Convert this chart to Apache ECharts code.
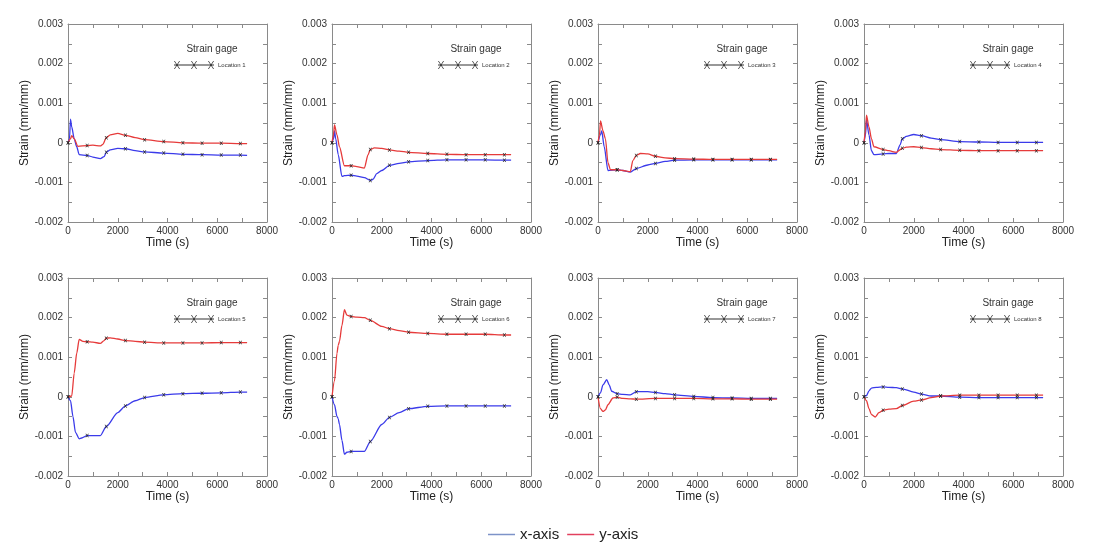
<!DOCTYPE html>
<html><head><meta charset="utf-8">
<script src="https://cdn.jsdelivr.net/npm/echarts@6/dist/echarts.min.js"></script>
<style>html,body{margin:0;padding:0;background:#fff}#c{width:1107px;height:550px}</style>
</head><body><div id="c"></div>
<script>
// ---------- data (time s, strain mm/mm) ----------
const loc1X = [[0,0],[60,0.0001],[100,0.0006],[150,0.0004],[250,0.0001],[350,-0.0001],[450,-0.0003],[770,-0.00032],[1000,-0.00036],[1300,-0.0004],[1450,-0.00035],[1540,-0.00024],[1700,-0.00018],[2000,-0.00014],[2310,-0.00015],[2700,-0.0002],[3080,-0.00023],[3850,-0.00026],[4620,-0.00029],[5390,-0.0003],[6160,-0.00031],[6930,-0.00031],[7200,-0.00032]];
const loc1Y = [[0,0],[100,0.0001],[150,0.00018],[250,0.0001],[400,-0.00009],[770,-0.00007],[1000,-0.00006],[1300,-0.00008],[1400,-0.00004],[1540,0.00013],[1700,0.0002],[2000,0.00024],[2310,0.00019],[2700,0.00013],[3080,0.00008],[3850,0.00003],[4620,0],[5390,-0.00001],[6160,-0.00001],[6930,-0.00002],[7200,-0.00002]];
const loc2X = [[0,0],[60,0.0001],[100,0.0003],[150,0.0001],[250,-0.0003],[400,-0.00085],[500,-0.00083],[770,-0.00082],[1000,-0.00084],[1300,-0.00088],[1540,-0.00095],[1650,-0.00092],[1800,-0.00078],[2000,-0.0007],[2310,-0.00057],[2700,-0.00052],[3080,-0.00048],[3850,-0.00045],[4620,-0.00043],[5390,-0.00043],[6160,-0.00043],[6930,-0.00044],[7200,-0.00044]];
const loc2Y = [[0,0],[60,0.0002],[100,0.00045],[200,0.0002],[300,-0.0001],[500,-0.00058],[770,-0.00058],[1000,-0.0006],[1300,-0.00064],[1450,-0.0003],[1540,-0.00017],[1700,-0.00013],[2000,-0.00014],[2310,-0.00018],[2700,-0.00021],[3080,-0.00024],[3850,-0.00027],[4620,-0.00029],[5390,-0.0003],[6160,-0.0003],[6930,-0.0003],[7200,-0.0003]];
const loc3X = [[0,0],[100,0.0002],[150,0.0003],[250,-0.0001],[400,-0.0007],[770,-0.00068],[1000,-0.0007],[1300,-0.00074],[1540,-0.00065],[2000,-0.00056],[2310,-0.00052],[2700,-0.00047],[3080,-0.00044],[3850,-0.00043],[4620,-0.00043],[5390,-0.00043],[6160,-0.00043],[6930,-0.00043],[7200,-0.00043]];
const loc3Y = [[0,0],[60,0.0002],[100,0.00055],[200,0.0003],[300,0.0001],[400,-0.0005],[500,-0.00068],[770,-0.00068],[1000,-0.0007],[1300,-0.00073],[1400,-0.00045],[1540,-0.00032],[1700,-0.00027],[2000,-0.00028],[2310,-0.00034],[2700,-0.00038],[3080,-0.0004],[3850,-0.00041],[4620,-0.00042],[5390,-0.00042],[6160,-0.00042],[6930,-0.00042],[7200,-0.00042]];
const loc4X = [[0,0],[60,0.0002],[100,0.00058],[200,0.0002],[300,-0.0002],[400,-0.0003],[770,-0.00028],[1000,-0.00027],[1300,-0.00027],[1450,-0.00005],[1540,0.0001],[1700,0.00016],[2000,0.00021],[2310,0.00018],[2700,0.00012],[3080,0.00008],[3850,0.00003],[4620,0.00002],[5390,0.00001],[6160,0.00001],[6930,0.00001],[7200,0.00001]];
const loc4Y = [[0,0],[60,0.0003],[100,0.0007],[200,0.0004],[300,0.0001],[400,-0.0001],[770,-0.00017],[1000,-0.0002],[1300,-0.00024],[1540,-0.00014],[1700,-0.00011],[2000,-0.0001],[2310,-0.00012],[2700,-0.00015],[3080,-0.00017],[3850,-0.00019],[4620,-0.0002],[5390,-0.0002],[6160,-0.0002],[6930,-0.0002],[7200,-0.0002]];
const loc5X = [[0,0],[100,-0.0001],[200,-0.0005],[300,-0.0009],[450,-0.00106],[550,-0.00104],[770,-0.00098],[1000,-0.00098],[1300,-0.00098],[1540,-0.00075],[2000,-0.0004],[2310,-0.00023],[2700,-0.0001],[3080,-0.00002],[3850,0.00005],[4620,0.00008],[5390,0.00009],[6160,0.0001],[6930,0.00012],[7200,0.00012]];
const loc5Y = [[0,0],[150,0.00002],[250,0.0006],[350,0.0011],[450,0.00145],[600,0.0014],[770,0.00139],[1000,0.00138],[1300,0.00135],[1450,0.00142],[1540,0.00148],[1700,0.00149],[2000,0.00146],[2310,0.00142],[2700,0.0014],[3080,0.00138],[3850,0.00136],[4620,0.00136],[5390,0.00136],[6160,0.00137],[6930,0.00137],[7200,0.00137]];
const loc6X = [[0,0],[100,-0.0002],[200,-0.0005],[250,-0.00055],[300,-0.0007],[400,-0.0011],[500,-0.00145],[600,-0.0014],[770,-0.00138],[1000,-0.00138],[1300,-0.00138],[1540,-0.00113],[2000,-0.0007],[2310,-0.00052],[2700,-0.0004],[3080,-0.0003],[3850,-0.00024],[4620,-0.00023],[5390,-0.00023],[6160,-0.00023],[6930,-0.00023],[7200,-0.00023]];
const loc6Y = [[0,0],[100,0.0004],[200,0.0011],[250,0.0013],[300,0.0014],[400,0.0018],[500,0.0022],[600,0.00206],[770,0.00203],[1000,0.00201],[1300,0.002],[1540,0.00193],[2000,0.00178],[2310,0.00172],[2700,0.00167],[3080,0.00163],[3850,0.0016],[4620,0.00158],[5390,0.00158],[6160,0.00158],[6930,0.00156],[7200,0.00156]];
const loc7X = [[0,0],[100,0.0001],[200,0.0003],[350,0.00043],[450,0.0003],[550,0.00014],[770,0.00008],[1000,0.00006],[1300,0.00005],[1540,0.00013],[2000,0.00013],[2310,0.00011],[2700,0.00008],[3080,0.00005],[3850,0.00001],[4620,-0.00002],[5390,-0.00003],[6160,-0.00004],[6930,-0.00004],[7200,-0.00004]];
const loc7Y = [[0,0],[100,-0.0003],[200,-0.00037],[300,-0.00033],[400,-0.0002],[600,-0.00003],[770,-0.00001],[1000,-0.00004],[1300,-0.00005],[1540,-0.00006],[2310,-0.00004],[3080,-0.00004],[3850,-0.00004],[4620,-0.00005],[5390,-0.00005],[6160,-0.00006],[6930,-0.00006],[7200,-0.00006]];
const loc8X = [[0,0],[100,0.00003],[200,0.00015],[300,0.00022],[500,0.00024],[770,0.00025],[1000,0.00024],[1300,0.00023],[1540,0.0002],[2000,0.00012],[2310,0.00007],[2700,0.00002],[3080,0.00002],[3850,-0.00001],[4620,-0.00002],[5390,-0.00002],[6160,-0.00002],[6930,-0.00002],[7200,-0.00002]];
const loc8Y = [[0,0],[100,-0.0001],[200,-0.0003],[300,-0.00045],[450,-0.00051],[600,-0.0004],[770,-0.00034],[1000,-0.00031],[1300,-0.0003],[1540,-0.00022],[2000,-0.00011],[2310,-0.00008],[2700,-0.00002],[3080,0.00002],[3850,0.00004],[4620,0.00004],[5390,0.00004],[6160,0.00004],[6930,0.00004],[7200,0.00004]];

const locationNames = ['Location 1','Location 2','Location 3','Location 4','Location 5','Location 6','Location 7','Location 8'];
const xAxisStrain = [loc1X,loc2X,loc3X,loc4X,loc5X,loc6X,loc7X,loc8X];
const yAxisStrain = [loc1Y,loc2Y,loc3Y,loc4Y,loc5Y,loc6Y,loc7Y,loc8Y];
const markerTimes = [0,770,1540,2310,3080,3850,4620,5390,6160,6930];
const seriesNames = ['x-axis','y-axis'];
const X_MIN = 0, X_MAX = 8000, X_STEP = 2000;
const Y_MIN = -0.002, Y_MAX = 0.003, Y_STEP = 0.001;

// ---------- layout / style ----------
const COL_LEFT = [68, 332, 598, 864];
const ROW_TOP = [24, 278];
const GW = 199, GH = 198;
const FONT = '"Liberation Sans", Arial, sans-serif';
const AX = '#8a8a8a';
const BLUE = '#3b3bea', RED = '#e63b3b';
const CROSS = 'path://M0,0 L1.8,0 L8,8 L6.2,8 Z M6.2,0 L8,0 L1.8,8 L0,8 Z';
function legendPath(){
  let p = 'path://M0,3.6 L40,3.6 L40,4.4 L0,4.4 Z';
  [3,20,37].forEach(c=>{
    p += ` M${c-3},0 L${c-2.2},0 L${c+3},8 L${c+2.2},8 Z M${c+2.2},0 L${c+3},0 L${c-2.2},8 L${c-3},8 Z`;
  });
  return p;
}
const LEG_ICON = legendPath();

const grid = [], xAxis = [], yAxis = [], series = [], title = [], legend = [];
function tickCfg(){ return {show:true, inside:true, length:4, lineStyle:{color:AX, width:1}}; }
for (let i = 0; i < 8; i++) {
  const left = COL_LEFT[i % 4], top = ROW_TOP[Math.floor(i / 4)];
  grid.push({left, top, width: GW, height: GH, containLabel:false, outerBoundsMode:'none'});
  const xBase = {gridIndex:i, type:'value', min:X_MIN, max:X_MAX, interval:X_STEP,
    axisLine:{show:true, onZero:false, lineStyle:{color:AX, width:1}},
    axisTick:tickCfg(), minorTick:{show:true, splitNumber:2, length:4, lineStyle:{color:AX, width:1}},
    splitLine:{show:false}, minorSplitLine:{show:false}};
  xAxis.push(Object.assign({}, xBase, {position:'bottom',
    axisLabel:{show:true, fontSize:10, color:'#333', margin:4, fontFamily:FONT, formatter:(v)=>String(v)},
    name:'Time (s)', nameLocation:'middle', nameGap:8,
    nameTextStyle:{fontSize:12, color:'#222', fontFamily:FONT}}));
  xAxis.push(Object.assign({}, xBase, {position:'top', axisLabel:{show:false}}));
  const yBase = {gridIndex:i, type:'value', min:Y_MIN, max:Y_MAX, interval:Y_STEP,
    axisLine:{show:true, onZero:false, lineStyle:{color:AX, width:1}},
    axisTick:tickCfg(), minorTick:{show:true, splitNumber:2, length:4, lineStyle:{color:AX, width:1}},
    splitLine:{show:false}, minorSplitLine:{show:false}};
  yAxis.push(Object.assign({}, yBase, {position:'left',
    axisLabel:{show:true, fontSize:10, color:'#333', margin:5, fontFamily:FONT},
    name:'Strain (mm/mm)', nameLocation:'middle', nameGap:29,
    nameTextStyle:{fontSize:12, color:'#222', fontFamily:FONT}}));
  yAxis.push(Object.assign({}, yBase, {position:'right', axisLabel:{show:false}}));

  const mk = (name, data, color) => ({
    type:'line', name, xAxisIndex:2*i, yAxisIndex:2*i, data,
    smooth:0.25, smoothMonotone:'x', showAllSymbol:true,
    symbol:(v)=> markerTimes.indexOf(v[0]) >= 0 ? CROSS : 'none',
    symbolSize:3.5, itemStyle:{color:'#222'},
    lineStyle:{color, width:1.3}, emphasis:{disabled:true}, silent:true, z:3
  });
  series.push(mk(seriesNames[0], xAxisStrain[i], BLUE));
  series.push(mk(seriesNames[1], yAxisStrain[i], RED));
  series.push({type:'line', name:locationNames[i], xAxisIndex:2*i, yAxisIndex:2*i, data:[],
    itemStyle:{color:'#333'}, lineStyle:{color:'#333'}});

  title.push({text:'Strain gage', left:left+144, top:top+20, textAlign:'center', padding:0,
    textStyle:{fontSize:10, fontWeight:'normal', color:'#333', fontFamily:FONT}});
  legend.push({data:[locationNames[i]], left:left+106, top:top+37, padding:0,
    icon:LEG_ICON, itemWidth:40, itemHeight:8, selectedMode:false,
    itemStyle:{color:'#333', borderWidth:0}, textStyle:{fontSize:6, color:'#333', fontFamily:FONT, padding:[0,0,0,-1]}});
}
legend.push({data:[{name:seriesNames[0], itemStyle:{color:'#7d93c8'}}, {name:seriesNames[1], itemStyle:{color:'#e2405e'}}],
  left:488, top:527, padding:0, icon:'rect', itemWidth:27, itemHeight:1.5, itemGap:8, selectedMode:false,
  itemStyle:{borderWidth:0}, textStyle:{fontSize:15, color:'#222', fontFamily:FONT}});

const chart = echarts.init(document.getElementById('c'), null, {renderer:'canvas'});
chart.setOption({backgroundColor:'#fff', animation:false, grid, xAxis, yAxis, series, title, legend});
</script>
</body></html>
